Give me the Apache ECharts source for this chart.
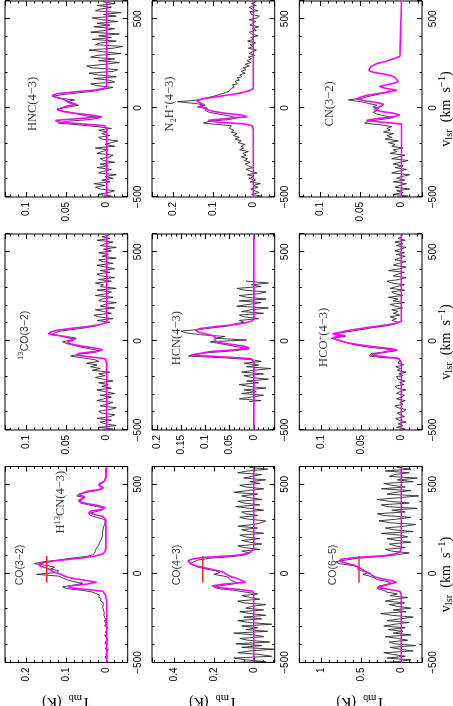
<!DOCTYPE html>
<html>
<head>
<meta charset="utf-8">
<script src="https://cdn.jsdelivr.net/npm/echarts@6/dist/echarts.min.js"></script>
<style>
  html, body { margin: 0; padding: 0; background: #fff; overflow: hidden; }
  #wrap { position: relative; width: 453px; height: 706px; overflow: hidden; }
  /* the figure is a landscape plot turned a quarter turn counter-clockwise */
  #chart { position: absolute; left: 0; top: 0; width: 706px; height: 453px;
           transform-origin: 0 0; transform: translate(0, 706px) rotate(-90deg); }
</style>
</head>
<body>
<div id="wrap"><div id="chart"></div></div>
<script>
// velocity range of every panel (km/s)
const VEL_MIN = -500, VEL_MAX = 600;

// channel velocities (10 km/s channels)
const velFull = Array.from({ length: 111 }, (_, i) => -500 + 10 * i);
const hcnVel = Array.from({ length: 69 }, (_, i) => -340 + 10 * i);
const cnVel = Array.from({ length: 61 }, (_, i) => -500 + 10 * i);

// observed spectra, T_mb (K); one row per 100 km/s
const co32Spec = [
  0.003, -0.002, 0.001, 0.004, -0.003, 0.002, 0.000, -0.004, 0.003, 0.001,
  -0.002, 0.004, 0.002, -0.003, 0.001, 0.005, -0.001, 0.003, 0.000, 0.004,
  -0.002, 0.005, 0.002, 0.006, 0.001, 0.004, 0.007, 0.003, 0.006, 0.008,
  0.006, 0.010, 0.008, 0.012, 0.010, 0.015, 0.014, 0.020, 0.018, 0.025,
  0.035, 0.060, 0.100, 0.110, 0.080, 0.060, 0.085, 0.100, 0.110, 0.120,
  0.175, 0.125, 0.120, 0.140, 0.130, 0.150, 0.180, 0.160, 0.120, 0.090,
  0.050, 0.035, 0.030, 0.028, 0.025, 0.022, 0.020, 0.018, 0.015, 0.014,
  0.012, 0.010, 0.008, 0.011, 0.009, 0.006, 0.008, 0.005, 0.006, 0.004,
  0.005, 0.010, 0.025, 0.040, 0.045, 0.030, 0.012, 0.010, 0.025, 0.045,
  0.065, 0.070, 0.060, 0.055, 0.075, 0.070, 0.050, 0.025, 0.010, 0.015,
  0.020, 0.012, 0.006, 0.004, 0.002, 0.005, 0.001, 0.003, 0.000, 0.002,
  0.000
];
const c13oSpec = [
  0.004, -0.008, 0.010, -0.012, 0.002, 0.008, -0.006, 0.012, -0.004, -0.010,
  0.006, 0.010, -0.004, -0.012, 0.008, 0.000, -0.008, 0.012, 0.004, -0.006,
  0.008, -0.010, 0.002, 0.012, -0.006, 0.006, -0.002, 0.010, -0.008, 0.004,
  0.014, 0.002, 0.010, -0.004, 0.018, 0.008, 0.020, 0.012, 0.025, 0.010,
  0.015, 0.030, 0.045, 0.035, 0.015, 0.008, 0.020, 0.032, 0.040, 0.050,
  0.055, 0.045, 0.038, 0.050, 0.070, 0.065, 0.058, 0.040, 0.025, 0.012,
  0.006, -0.004, 0.012, -0.008, 0.010, 0.016, -0.006, 0.004, 0.014, -0.010,
  0.008, 0.002, -0.012, 0.010, 0.006, -0.008, 0.014, 0.000, -0.006, 0.012,
  -0.012, 0.008, 0.004, 0.014, -0.006, 0.010, -0.010, 0.006, 0.012, -0.004,
  0.008, -0.010, 0.002, 0.012, -0.008, 0.004, 0.010, -0.012, 0.006, -0.002,
  0.010, -0.006, 0.004, -0.012, 0.008, 0.002, -0.008, 0.012, -0.004, 0.006,
  -0.004
];
const hncSpec = [
  0.004, -0.006, 0.010, -0.002, -0.010, 0.008, 0.014, 0.002, 0.016, -0.004,
  0.006, -0.008, 0.002, -0.012, 0.010, 0.004, -0.006, 0.012, -0.002, 0.008,
  -0.010, 0.004, 0.008, -0.004, -0.008, 0.012, 0.006, -0.002, 0.014, -0.010,
  0.002, -0.006, -0.014, 0.006, 0.010, -0.004, 0.006, 0.000, 0.010, -0.006,
  0.012, 0.035, 0.060, 0.050, 0.020, 0.008, 0.025, 0.035, 0.045, 0.058,
  0.062, 0.048, 0.035, 0.045, 0.050, 0.040, 0.060, 0.068, 0.055, 0.035,
  0.015, 0.004, -0.008, 0.012, 0.020, -0.010, -0.004, 0.016, -0.012, 0.010,
  0.022, -0.008, -0.014, 0.018, 0.025, 0.002, -0.016, 0.010, -0.010, 0.020,
  0.012, -0.018, 0.004, 0.022, -0.008, -0.020, 0.014, 0.008, -0.012, 0.018,
  -0.006, 0.010, -0.016, 0.020, 0.002, -0.010, 0.016, -0.004, 0.012, -0.014,
  0.006, 0.018, -0.012, 0.004, -0.018, 0.014, 0.008, -0.006, 0.012, -0.010,
  0.004
];
const co43Spec = [
  0.12, -0.06, 0.04, 0.10, -0.09, -0.03, 0.08, 0.02, -0.10, 0.06,
  -0.04, 0.09, -0.08, 0.03, 0.07, -0.05, 0.00, 0.10, -0.07, 0.04,
  -0.02, 0.06, -0.09, 0.03, 0.08, -0.04, 0.05, -0.06, 0.02, 0.07,
  -0.05, 0.04, 0.01, -0.06, 0.05, 0.08, -0.03, 0.02, 0.06, -0.02,
  0.04, 0.10, 0.18, 0.20, 0.14, 0.08, 0.10, 0.12, 0.13, 0.15,
  0.20, 0.17, 0.19, 0.24, 0.28, 0.30, 0.32, 0.30, 0.28, 0.22,
  0.10, 0.04, 0.02, 0.06, -0.03, 0.05, 0.08, -0.04, 0.02, 0.06,
  -0.03, 0.04, 0.07, -0.05, 0.02, 0.06, -0.02, 0.08, 0.00, -0.04,
  -0.06, 0.03, 0.07, -0.02, 0.04, 0.06, -0.05, 0.02, 0.09, -0.03,
  0.05, 0.08, -0.04, 0.02, 0.06, -0.02, 0.10, 0.03, -0.05, 0.04,
  0.07, -0.03, 0.02, -0.06, 0.05, 0.01, -0.04, 0.08, 0.03, -0.07,
  0.02
];
const hcnSpec = [
  0.010, -0.015, 0.030, 0.005, -0.020, 0.025, -0.005, 0.020, -0.025, 0.010,
  0.030, -0.010, 0.015, -0.030, 0.005, 0.020, -0.020, 0.025, 0.000, -0.035,
  0.015, -0.010, 0.020, -0.015, 0.005, 0.060, 0.135, 0.120, 0.090, 0.040,
  0.010, 0.030, 0.050, 0.070, 0.090, 0.015, 0.080, 0.060, 0.110, 0.140,
  0.150, 0.110, 0.080, 0.050, 0.040, 0.020, 0.030, -0.010, 0.020, 0.030,
  -0.020, 0.025, 0.005, -0.030, 0.035, 0.010, -0.015, 0.030, -0.025, 0.015,
  0.030, -0.010, -0.025, 0.020, 0.035, -0.015, 0.005, -0.030, 0.015
];
const n2hSpec = [
  -0.010, -0.020, 0.004, -0.015, -0.005, 0.006, -0.012, 0.000, -0.018, 0.008,
  -0.006, 0.010, -0.002, 0.014, -0.010, 0.006, 0.018, 0.002, 0.012, 0.020,
  0.008, 0.022, 0.014, 0.030, 0.018, 0.026, 0.012, 0.034, 0.024, 0.030,
  0.020, 0.038, 0.030, 0.045, 0.035, 0.050, 0.040, 0.055, 0.048, 0.060,
  0.055, 0.080, 0.125, 0.110, 0.060, 0.040, 0.060, 0.085, 0.110, 0.120,
  0.115, 0.140, 0.120, 0.145, 0.190, 0.135, 0.120, 0.100, 0.085, 0.070,
  0.060, 0.055, 0.048, 0.052, 0.040, 0.045, 0.035, 0.040, 0.028, 0.034,
  0.020, 0.030, 0.018, 0.025, 0.010, 0.020, 0.006, 0.015, 0.004, 0.012,
  -0.004, 0.010, 0.002, -0.008, 0.012, 0.000, 0.008, -0.006, 0.014, -0.002,
  0.006, -0.012, 0.004, 0.010, -0.008, 0.002, -0.014, 0.008, 0.000, -0.006,
  0.010, -0.010, -0.016, 0.004, 0.008, -0.012, 0.002, 0.010, -0.008, 0.004,
  -0.006
];
const co65Spec = [
  0.25, 0.05, -0.12, 0.18, -0.05, 0.10, 0.22, -0.15, 0.02, 0.14,
  -0.18, 0.08, 0.15, -0.08, 0.04, 0.20, -0.12, 0.10, -0.02, 0.16,
  -0.05, 0.22, 0.08, -0.10, 0.18, 0.02, -0.15, 0.12, 0.26, -0.06,
  0.10, -0.12, 0.05, 0.15, -0.04, 0.20, 0.08, -0.08, 0.14, 0.05,
  0.18, 0.22, 0.30, 0.28, 0.22, 0.12, 0.18, 0.30, 0.34, 0.40,
  0.48, 0.40, 0.50, 0.55, 0.52, 0.62, 0.78, 0.82, 0.70, 0.55,
  0.25, 0.05, -0.10, 0.12, 0.20, -0.05, 0.08, 0.15, -0.12, 0.05,
  0.18, -0.08, 0.02, 0.25, -0.15, 0.10, 0.20, -0.05, -0.18, 0.15,
  0.28, 0.05, -0.12, 0.22, 0.30, -0.05, 0.12, -0.20, 0.18, 0.25,
  -0.10, 0.15, 0.30, 0.02, -0.22, 0.18, 0.08, -0.12, 0.25, -0.05,
  0.12, 0.22, -0.15, 0.05, -0.20, 0.15, 0.08, -0.10, 0.20, -0.12,
  0.05
];
const hcopSpec = [
  0.002, -0.005, 0.006, -0.002, 0.004, -0.006, 0.003, 0.007, -0.004, 0.001,
  0.005, -0.003, -0.006, 0.004, 0.008, -0.002, 0.002, -0.005, 0.006, 0.000,
  -0.004, 0.006, 0.002, -0.006, 0.005, 0.008, -0.003, 0.002, -0.005, 0.004,
  0.006, -0.002, 0.003, -0.006, 0.005, 0.001, 0.007, -0.003, 0.004, 0.002,
  0.004, 0.020, 0.040, 0.038, 0.022, 0.006, 0.020, 0.040, 0.055, 0.065,
  0.072, 0.080, 0.088, 0.070, 0.085, 0.078, 0.062, 0.048, 0.035, 0.018,
  0.008, 0.004, 0.012, 0.006, 0.014, 0.002, 0.010, 0.004, 0.012, -0.002,
  0.008, 0.014, -0.004, 0.010, 0.004, 0.016, -0.002, 0.008, 0.012, -0.004,
  0.014, 0.006, -0.004, 0.012, 0.018, 0.002, -0.006, 0.010, 0.004, -0.004,
  0.016, 0.002, -0.006, 0.010, 0.004, -0.006, 0.008, 0.002, -0.005, 0.006,
  -0.004, 0.008, 0.002, -0.006, 0.006, -0.002, 0.008, -0.005, 0.004, 0.000,
  -0.002
];
const cnSpec = [
  0.004, -0.008, 0.010, -0.002, 0.006, -0.010, 0.008, 0.002, -0.006, 0.010,
  -0.004, 0.006, 0.000, -0.010, 0.012, 0.004, -0.006, 0.008, -0.002, 0.010,
  0.002, -0.008, 0.012, 0.004, -0.004, 0.014, 0.006, 0.010, -0.002, 0.012,
  0.008, 0.016, 0.004, 0.020, 0.012, 0.018, 0.010, 0.022, 0.014, 0.018,
  0.012, 0.025, 0.045, 0.040, 0.025, 0.010, 0.020, 0.030, 0.035, 0.030,
  0.028, 0.035, 0.030, 0.040, 0.050, 0.065, 0.048, 0.040, 0.030, 0.020,
  0.015
];

// fitted profiles (magenta)
const fitVel = [-500, -120, -110, -100, -90, -80, -70, -60, -50, -40, -30, -20, -10, 0,
  10, 20, 30, 40, 50, 60, 70, 80, 90, 100, 110, 120, 130, 140, 600];
const c13oFit = [0, 0, 0, 0.002, 0.02, 0.038, 0.035, 0.015, 0.005, 0.015, 0.03, 0.042, 0.05, 0.048,
  0.04, 0.042, 0.06, 0.073, 0.07, 0.062, 0.045, 0.025, 0.01, 0.003, 0, 0, 0, 0, 0];
const hncFit = [0, 0, 0, 0.002, 0.03, 0.06, 0.064, 0.035, 0.006, 0.02, 0.04, 0.055, 0.062, 0.062,
  0.05, 0.038, 0.045, 0.05, 0.055, 0.063, 0.068, 0.062, 0.04, 0.015, 0.003, 0, 0, 0, 0];
const co43Fit = [0, 0, 0, 0.005, 0.07, 0.17, 0.21, 0.15, 0.04, 0.04, 0.08, 0.11, 0.13, 0.145,
  0.16, 0.2, 0.24, 0.28, 0.31, 0.32, 0.33, 0.31, 0.25, 0.1, 0.04, 0.015, 0.005, 0, 0];
const hcnFit = [0, 0, 0, 0.005, 0.06, 0.13, 0.13, 0.09, 0.04, 0.01, 0.02, 0.045, 0.07, 0.08,
  0.082, 0.08, 0.085, 0.1, 0.115, 0.12, 0.11, 0.08, 0.045, 0.02, 0.006, 0, 0, 0, 0];
const n2hFit = [0, 0, 0, 0.003, 0.02, 0.09, 0.113, 0.07, 0.015, 0.03, 0.07, 0.1, 0.115, 0.125,
  0.133, 0.125, 0.135, 0.142, 0.13, 0.1, 0.07, 0.04, 0.02, 0.006, 0, 0, 0, 0, 0];
const co65Fit = [0, 0, 0, 0.02, 0.15, 0.3, 0.32, 0.15, 0.06, 0.12, 0.25, 0.33, 0.37, 0.4,
  0.45, 0.48, 0.52, 0.56, 0.62, 0.72, 0.78, 0.75, 0.55, 0.2, 0.08, 0.02, 0, 0, 0];
const hcopFit = [0, 0, 0, 0.003, 0.02, 0.038, 0.037, 0.02, 0.005, 0.02, 0.04, 0.055, 0.068, 0.076,
  0.082, 0.085, 0.07, 0.086, 0.075, 0.065, 0.05, 0.035, 0.018, 0.006, 0, 0, 0, 0, 0];
const co32FitVel = [-500, -160, -120, -100, -90, -80, -70, -60, -50, -40, -30, -20, -10, 0,
  10, 20, 30, 40, 50, 60, 70, 80, 90, 100, 110, 120, 140, 300, 320, 330, 340, 350, 360, 370,
  380, 390, 400, 410, 420, 430, 440, 450, 460, 470, 480, 490, 500, 510, 520, 540, 600];
const co32Fit = [0, 0, 0.003, 0.01, 0.05, 0.095, 0.09, 0.05, 0.025, 0.05, 0.08, 0.1, 0.11, 0.12,
  0.135, 0.14, 0.15, 0.165, 0.17, 0.16, 0.13, 0.09, 0.05, 0.025, 0.01, 0.005, 0.002, 0.002, 0.01, 0.03, 0.045, 0.04, 0.01, 0.005,
  0.02, 0.045, 0.065, 0.07, 0.06, 0.055, 0.07, 0.07, 0.05, 0.02, 0.008, 0.015, 0.02, 0.012, 0.005, 0.002, 0];
const cnFitVel = [-500, -90, -80, -70, -60, -50, -40, -30, -20, -10, 0, 10, 20, 30, 40, 50, 60, 70,
  80, 90, 100, 110, 120, 130, 140, 150, 160, 170, 180, 190, 200, 210, 220, 230, 240, 250, 260,
  270, 280, 290, 300, 600];
const cnFit = [0, 0, 0.025, 0.043, 0.03, 0.01, 0.002, 0.01, 0.025, 0.033, 0.03, 0.025, 0.022, 0.03,
  0.045, 0.055, 0.05, 0.043, 0.03, 0.015, 0.006, 0.02, 0.027, 0.018, 0.008, 0.004, 0.004, 0.008,
  0.012, 0.022, 0.035, 0.04, 0.04, 0.038, 0.037, 0.03, 0.02, 0.014, 0.007, 0.002, 0, 0];

// red velocity bar in the CO panels
const barVel = [-52, 98];

const SERIF = "'Liberation Serif', 'DejaVu Serif', serif";
const SANS = "'Liberation Sans', 'DejaVu Sans', sans-serif";
const M = '\u2212';

// landscape layout (before the quarter turn)
const colLeft = [43.5, 276, 509];
const rowTop = [5, 152, 299.3];
const panelW = 196, panelH = 122.7;

const panels = [
  { row: 0, col: 0, vel: velFull, spec: co32Spec, fv: co32FitVel, fit: co32Fit, yMin: -0.0525, yMax: 0.254, major: 0.1, minor: 0.02, bar: 0.15,
    labels: [{ text: `{s|CO(3${M}2)}`, at: [47, 0.217] }, { text: `{n|H}{sup|13}{n|CN(4${M}3)}`, at: [400, 0.114] }] },
  { row: 0, col: 1, vel: velFull, spec: c13oSpec, fv: fitVel, fit: c13oFit, yMin: -0.0263, yMax: 0.127, major: 0.05, minor: 0.01,
    labels: [{ text: `{ssup|13}{s|CO(3${M}2)}`, at: [32, 0.102] }] },
  { row: 0, col: 2, vel: velFull, spec: hncSpec, fv: fitVel, fit: hncFit, yMin: -0.0263, yMax: 0.127, major: 0.05, minor: 0.01,
    labels: [{ text: `{n|HNC(4${M}3)}`, at: [22, 0.092] }] },
  { row: 1, col: 0, vel: velFull, spec: co43Spec, fv: fitVel, fit: co43Fit, yMin: -0.105, yMax: 0.51, major: 0.2, minor: 0.05, bar: 0.256,
    labels: [{ text: `{s|CO(4${M}3)}`, at: [47, 0.385] }] },
  { row: 1, col: 1, vel: hcnVel, spec: hcnSpec, fv: fitVel, fit: hcnFit, yMin: -0.043, yMax: 0.21, major: 0.05, minor: 0.01,
    labels: [{ text: `{n|HCN(4${M}3)}`, at: [15, 0.159] }] },
  { row: 1, col: 2, vel: velFull, spec: n2hSpec, fv: fitVel, fit: n2hFit, yMin: -0.054, yMax: 0.254, major: 0.1, minor: 0.02,
    labels: [{ text: `{n|N}{sub|2}{n|H}{sup|+}{n|(4${M}3)}`, at: [22, 0.209] }] },
  { row: 2, col: 0, vel: velFull, spec: co65Spec, fv: fitVel, fit: co65Fit, yMin: -0.26, yMax: 1.28, major: 0.5, minor: 0.1, bar: 0.53,
    labels: [{ text: `{s|CO(6${M}5)}`, at: [47, 0.86] }] },
  { row: 2, col: 1, vel: velFull, spec: hcopSpec, fv: fitVel, fit: hcopFit, yMin: -0.026, yMax: 0.128, major: 0.05, minor: 0.01,
    labels: [{ text: `{n|HCO}{sup|+}{n|(4${M}3)}`, at: [20, 0.097] }] },
  { row: 2, col: 2, vel: cnVel, spec: cnSpec, fv: cnFitVel, fit: cnFit, yMin: -0.025, yMax: 0.125, major: 0.05, minor: 0.01,
    labels: [{ text: `{n|CN(3${M}2)}`, at: [22, 0.0874] }] }
];

const richText = {
  n: { fontFamily: SERIF, fontSize: 12.5, lineHeight: 16, color: '#000' },
  sup: { fontFamily: SERIF, fontSize: 8.5, lineHeight: 8, verticalAlign: 'top', color: '#000' },
  sub: { fontFamily: SERIF, fontSize: 8.5, lineHeight: 8, verticalAlign: 'bottom', color: '#000' },
  s: { fontFamily: SANS, fontSize: 10.5, lineHeight: 16, color: '#000' },
  ssup: { fontFamily: SANS, fontSize: 7.5, lineHeight: 8, verticalAlign: 'top', color: '#000' }
};
const nameRich = {
  n: { fontFamily: SERIF, fontSize: 14, lineHeight: 18, color: '#000' },
  sub: { fontFamily: SERIF, fontSize: 10.5, lineHeight: 10, verticalAlign: 'bottom', color: '#000' },
  sup: { fontFamily: SERIF, fontSize: 10.5, lineHeight: 10, verticalAlign: 'top', color: '#000' }
};

function tickFmt(step) {
  return v => {
    const r = v / step;
    if (Math.abs(r - Math.round(r)) > 1e-6) return '';
    return String(+v.toFixed(4)).replace('-', M);
  };
}

const grid = [], xAxis = [], yAxis = [], series = [];

panels.forEach((p, i) => {
  grid.push({
    left: colLeft[p.col], top: rowTop[p.row], width: panelW, height: panelH,
    show: true, borderColor: '#000', borderWidth: 1, outerBoundsMode: 'none'
  });

  const xi = xAxis.length;
  [['bottom', 500, 5, true], ['bottom', 100, 2.5, false], ['top', 500, 5, false], ['top', 100, 2.5, false]]
    .forEach(([pos, iv, len, lab]) => {
      const ax = {
        gridIndex: i, type: 'value', position: pos, min: VEL_MIN, max: VEL_MAX, interval: iv,
        axisLine: { show: false, onZero: false },
        axisTick: { show: true, inside: true, length: len, lineStyle: { color: '#000', width: 1 } },
        axisLabel: { show: lab, margin: 6, color: '#000', fontFamily: SANS, fontSize: 10, formatter: tickFmt(500) },
        splitLine: { show: false }
      };
      if (lab && p.row === 2) {
        Object.assign(ax, {
          name: `{n|v}{sub|lsr}{n|  (km  s}{sup|${M}1}{n|)}`, nameLocation: 'middle', nameGap: 15,
          nameMoveOverlap: false,
          nameTextStyle: { rich: nameRich, padding: [0, 20, 0, 0] }
        });
      }
      xAxis.push(ax);
    });

  const yi = yAxis.length;
  const span = p.yMax - p.yMin;
  [['left', p.major, 5, true], ['left', p.minor, 2.5, false], ['right', p.major, 5, false], ['right', p.minor, 2.5, false]]
    .forEach(([pos, step, len, lab]) => {
      const ax = {
        gridIndex: i, type: 'value', position: pos, min: p.yMin, max: p.yMax,
        splitNumber: Math.round(span / step),
        axisLine: { show: false, onZero: false },
        axisTick: { show: true, inside: true, length: len, lineStyle: { color: '#000', width: 1 } },
        axisLabel: { show: lab, margin: 5, color: '#000', fontFamily: SANS, fontSize: 10, formatter: tickFmt(p.major) },
        splitLine: { show: false }
      };
      if (lab && p.col === 0) {
        Object.assign(ax, {
          name: '{n|T}{sub|mb}{n|  (K)}', nameLocation: 'middle', nameGap: 30, nameRotate: 90,
          nameMoveOverlap: false,
          nameTextStyle: { rich: nameRich }
        });
      }
      yAxis.push(ax);
    });

  series.push({
    type: 'line', xAxisIndex: xi, yAxisIndex: yi, step: 'middle', symbol: 'none', silent: true, z: 2,
    lineStyle: { color: '#2a2a2a', width: 0.9 },
    data: p.vel.map((v, k) => [v, p.spec[k]])
  });
  series.push({
    type: 'line', xAxisIndex: xi, yAxisIndex: yi, symbol: 'none', silent: true, z: 3,
    lineStyle: { color: '#ff00ff', width: 1.6 },
    data: p.fv.map((v, k) => [v, p.fit[k]])
  });
  if (p.bar !== undefined) {
    series.push({
      type: 'line', xAxisIndex: xi, yAxisIndex: yi, symbol: 'none', silent: true, z: 4,
      lineStyle: { color: '#f02828', width: 1.5 },
      data: barVel.map(v => [v, p.bar])
    });
  }
  p.labels.forEach(l => {
    series.push({
      type: 'scatter', xAxisIndex: xi, yAxisIndex: yi, silent: true, z: 5,
      symbolSize: 1, itemStyle: { color: 'rgba(0,0,0,0)' },
      label: { show: true, position: 'inside', formatter: () => l.text, rich: richText },
      data: [l.at]
    });
  });
});

const chart = echarts.init(document.getElementById('chart'));
chart.setOption({
  animation: false,
  backgroundColor: '#fff',
  grid, xAxis, yAxis, series
});
</script>
</body>
</html>
